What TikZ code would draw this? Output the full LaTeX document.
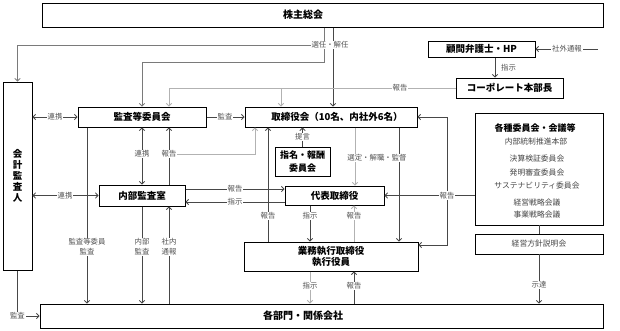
\documentclass[tikz,border=0pt]{standalone}
\usepackage{fontspec}
\setmainfont{Noto Sans CJK JP}
\usetikzlibrary{arrows.meta}
\begin{document}
\begin{tikzpicture}[x=1pt,y=-1pt,
  >={Straight Barb[length=2.6pt,width=5.5pt]},
  box/.style={draw=black,line width=1pt,fill=white,inner sep=0pt,align=center,
    font=\fontsize{9.5}{11}\selectfont\bfseries},
  dark/.style={draw=black!72,line width=0.8pt},
  mid/.style={draw=black!52,line width=0.8pt},
  light/.style={draw=black!30,line width=0.9pt},
  lbl/.style={fill=white,inner sep=1pt,text=black!68,align=center,
    font=\fontsize{7.4}{10}\selectfont},
  lbln/.style={inner sep=1pt,text=black!68,align=center,font=\fontsize{7.4}{10}\selectfont},
  sub/.style={inner sep=0pt,text=black!72,font=\fontsize{7.8}{9}\selectfont},
  ttl/.style={inner sep=0pt,font=\fontsize{10}{12}\selectfont\bfseries}]
\useasboundingbox[fill=white] (0,0) rectangle (620,330);

% ---------- boxes ----------
\node[box,minimum width=561pt,minimum height=24pt] (sh) at (322.5,15) {};
\node[ttl] (shT) at (303,15) {株主総会};
\node[box,minimum width=29pt,minimum height=188pt] (kaikei) at (17.5,176) {会\\計\\監\\査\\人};
\node[box,minimum width=128pt,minimum height=20pt] (kansa) at (142,117) {監査等委員会};
\node[box,minimum width=172pt,minimum height=20pt] (tori) at (331,117) {\hspace{12pt}取締役会（10名、内社外6名）};
\node[box,minimum width=107pt,minimum height=16pt] (komon) at (481.5,49) {顧問弁護士・HP};
\node[box,minimum width=107pt,minimum height=20pt] (corp) at (509.5,88) {コーポレート本部長};
\node[box,minimum width=55pt,minimum height=29pt,font=\fontsize{9}{13}\selectfont\bfseries] (shimei) at (302.5,161.5) {指名・報酬\\委員会};
\node[box,minimum width=99pt,minimum height=19pt] (daihyo) at (334.5,195.5) {代表取締役};
\node[box,minimum width=86pt,minimum height=21pt] (naibu) at (142,195.5) {内部監査室};
\node[box,minimum width=174pt,minimum height=29pt] (gyomu) at (331,256.5) {業務執行取締役\\執行役員};
\node[box,line width=0.7pt,minimum width=128pt,minimum height=112pt] (kakushu) at (539,169) {};
\node[ttl,font=\fontsize{9}{11}\selectfont\bfseries] (kkT) at (535,128) {各種委員会・会議等};
\node[sub] (k1) at (536,141.5) {内部統制推進本部};
\node[sub] (k2) at (537,159) {決算検証委員会};
\node[sub] (k3) at (537,172.5) {発明審査委員会};
\node[sub] (k4) at (537,186) {サステナビリティ委員会};
\node[sub] (k5) at (537,203) {経営戦略会議};
\node[sub] (k6) at (537,215) {事業戦略会議};
\node[box,line width=0.7pt,minimum width=128pt,minimum height=20pt,font=\fontsize{7.8}{9}\selectfont,text=black!72] (keiei) at (539,244) {経営方針説明会};
\node[box,minimum width=563pt,minimum height=24pt] (kakubu) at (321.5,316) {};
\node[ttl] (kbT) at (303,316) {各部門・関係会社};

% ---------- connectors ----------
% 株主総会
\draw[mid,->] (324,0 |- sh.south) -- (324,62) -| (kansa.north);
\draw[dark,->] (333,0 |- sh.south) -- (333,0 |- tori.north);
\draw[mid,->] (324,45) -| (kaikei.north);
\node[lbl] (l1) at (330,45) {選任・解任};
% コーポレート本部長 報告
\draw[light,->] (corp.west) -| (169,0 |- kansa.north);
\draw[light,->] (281,88) -- (281,0 |- tori.north);
\node[lbl] (l2) at (400,88) {報告};
% 顧問弁護士
\draw[dark,->] (495,0 |- komon.south) -- (495,0 |- corp.north);
\node[lbln,anchor=west] (l3) at (500,67.5) {指示};
\draw[dark,->] (598,49) -- (komon.east);
\node[lbl] (l4) at (567,49) {社外通報};
% 会計監査人
\draw[dark,<->] (kaikei.east |- kansa) -- (kansa.west);
\node[lbl] (l5) at (55,117) {連携};
\draw[dark,<->] (kaikei.east |- naibu) -- (naibu.west);
\node[lbl] (l6) at (65,195.5) {連携};
\draw[dark,->] (kaikei.south) |- (kakubu.west);
\node[lbl] (l7) at (17.5,316) {監査};
% 監査等委員会
\draw[dark,->] (kansa.east) -- (tori.west);
\node[lbl] (l8) at (225,117) {監査};
\draw[dark,<->] (kansa.south) -- (naibu.north);
\node[lbl] (l9) at (142,154) {連携};
\draw[light,->] (169,154) -| (255,0 |- tori.south);
\draw[dark,->] (169,0 |- naibu.north) -- (169,0 |- kansa.south);
\node[lbl] (l10) at (169,154) {報告};
\draw[dark,->] (87,0 |- kansa.south) -- (87,0 |- kakubu.north);
\node[lbl] (l11) at (87,247) {監査等委員\\監査};
% 内部監査室
\draw[dark,->] (naibu.south) -- (naibu.south |- kakubu.north);
\node[lbl] (l12) at (142,247) {内部\\監査};
\draw[dark,->] (169,0 |- kakubu.north) -- (169,0 |- naibu.south);
\node[lbl] (l13) at (169,247) {社内\\通報};
\draw[dark,->] (naibu.east |- 0,189) -- (daihyo.west |- 0,189);
\node[lbl] (l14) at (235,189) {報告};
\draw[dark,->] (daihyo.west |- 0,202) -- (naibu.east |- 0,202);
\node[lbl] (l15) at (235,202) {指示};
% 取締役会
\draw[dark,->] (shimei.north) -- (shimei.north |- tori.south);
\node[lbl] (l16) at (302.5,137) {提言};
\draw[light,->] (355,0 |- tori.south) -- (355,0 |- daihyo.north);
\draw[dark,->] (399,0 |- tori.south) -- (399,0 |- gyomu.north);
\node[lbl] (l17) at (377,158) {選定・解職・監督};
\draw[dark,->] (268,0 |- gyomu.north) -- (268,0 |- tori.south);
\node[lbl] (l18) at (268,216) {報告};
% 代表取締役
\draw[dark,->] (310,0 |- daihyo.south) -- (310,0 |- gyomu.north);
\node[lbl] (l19) at (310,216) {指示};
\draw[light,->] (354,0 |- gyomu.north) -- (354,0 |- daihyo.south);
\node[lbl] (l20) at (354,216) {報告};
% 各種委員会
\draw[dark,->] (kakushu.west |- daihyo) -- (daihyo.east);
\draw[dark,->] (447,0 |- daihyo) -- (447,0 |- tori) -- (tori.east);
\draw[dark,->] (447,0 |- daihyo) -- (447,245) -- (gyomu.east |- 0,245);
\node[lbl] (l21) at (447,195.5) {報告};
\draw[dark] (kakushu.south) -- (keiei.north);
\draw[dark,->] (keiei.south) -- (keiei.south |- kakubu.north);
\node[lbl] (l22) at (539,285) {示達};
% 業務執行取締役
\draw[light,->] (310,0 |- gyomu.south) -- (310,0 |- kakubu.north);
\node[lbl] (l23) at (310,286) {指示};
\draw[dark,->] (354,0 |- kakubu.north) -- (354,0 |- gyomu.south);
\node[lbl] (l24) at (354,286) {報告};
\end{tikzpicture}
\end{document}
